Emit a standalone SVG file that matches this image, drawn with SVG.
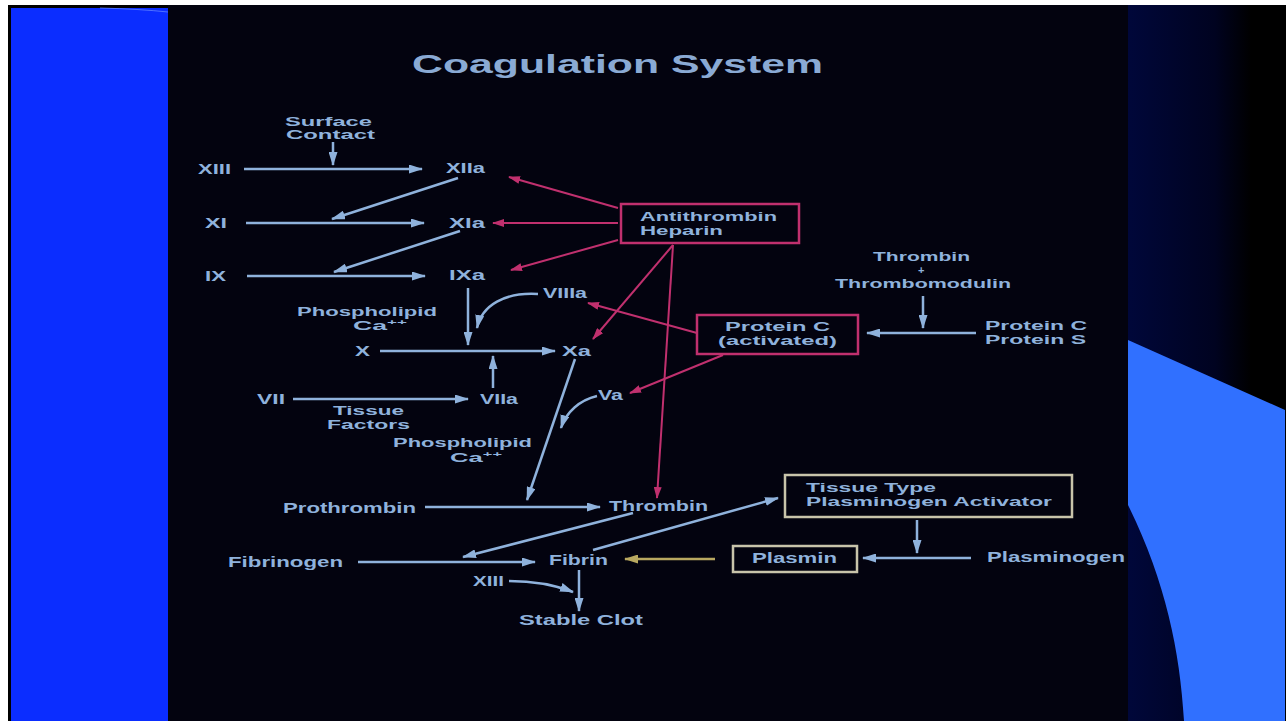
<svg xmlns="http://www.w3.org/2000/svg" width="1286" height="721" viewBox="0 0 1286 721">
<defs>
<style>
.t{font-family:"Liberation Sans",Arial,sans-serif;font-weight:bold;font-size:14px;fill:#8fb2dc;}
.s{font-size:12.5px;}
.ti{font-size:25px;fill:#8aaad4;}
.sup{font-size:8px;}
.b{fill:none;stroke:#8fb2dc;stroke-width:2.5;marker-end:url(#ab);}
.m{fill:none;stroke:#c0306e;stroke-width:2;marker-end:url(#am);}
.y{fill:none;stroke:#b8a860;stroke-width:2.5;marker-end:url(#ay);}
.bm{fill:none;stroke:#c0306e;stroke-width:2.5;}
.bt{fill:none;stroke:#c8c4aa;stroke-width:2.5;}
</style>
<marker id="ab" markerUnits="userSpaceOnUse" markerWidth="14" markerHeight="9" refX="13" refY="4.5" orient="auto"><path d="M0,0 L14,4.5 L0,9 z" fill="#8fb2dc"/></marker>
<marker id="am" markerUnits="userSpaceOnUse" markerWidth="12" markerHeight="8" refX="11" refY="4" orient="auto"><path d="M0,0 L12,4 L0,8 z" fill="#c0306e"/></marker>
<marker id="ay" markerUnits="userSpaceOnUse" markerWidth="14" markerHeight="9" refX="13" refY="4.5" orient="auto"><path d="M0,0 L14,4.5 L0,9 z" fill="#b8a860"/></marker>
<linearGradient id="rg" x1="1128" y1="0" x2="1286" y2="0" gradientUnits="userSpaceOnUse">
<stop offset="0" stop-color="#00073a"/><stop offset="0.55" stop-color="#000320"/><stop offset="0.78" stop-color="#000000"/><stop offset="1" stop-color="#000000"/>
</linearGradient>
</defs>
<rect x="0" y="0" width="1286" height="721" fill="#ffffff"/>
<rect x="8" y="5" width="1278" height="716" fill="#000000"/>
<rect x="11" y="8" width="157" height="713" fill="#0b2dff"/>
<path d="M100,8 Q140,9 168,12" fill="none" stroke="#6a8cff" stroke-width="1" opacity="0.7"/>
<rect x="168" y="5" width="960" height="716" fill="#03030f"/>
<rect x="1128" y="5" width="157" height="716" fill="url(#rg)"/>
<path d="M1128,340 L1285,410 L1285,721 L1184,721 C1180,650 1165,580 1128,505 Z" fill="#3070ff"/>

<g id="title"><text class="t ti" x="412" y="73" textLength="411" lengthAdjust="spacingAndGlyphs">Coagulation System</text></g>

<g id="connectors">
<path class="b" d="M333,142 L333,165"/>
<path class="b" d="M244,169 L422,169"/>
<path class="b" d="M458,178 L332,219"/>
<path class="b" d="M246,223 L424,223"/>
<path class="b" d="M460,231 L334,272"/>
<path class="b" d="M247,276 L425,276"/>
<path class="b" d="M468,288 L468,345"/>
<path class="b" d="M538,294 C505,292 482,305 477,328"/>
<path class="b" d="M380,351 L555,351"/>
<path class="b" d="M493,388 L493,356"/>
<path class="b" d="M293,399 L468,399"/>
<path class="b" d="M597,396 C580,400 566,412 561,428"/>
<path class="b" d="M575,359 L527,500"/>
<path class="b" d="M425,507 L600,507"/>
<path class="b" d="M633,513 L463,557"/>
<path class="b" d="M358,562 L535,562"/>
<path class="b" d="M593,550 L778,498"/>
<path class="b" d="M579,570 L579,611"/>
<path class="b" d="M509,581 C535,581 555,585 573,592"/>
<path class="b" d="M917,520 L917,553"/>
<path class="b" d="M971,558 L863,558"/>
<path class="b" d="M923,296 L923,328"/>
<path class="b" d="M976,333 L867,333"/>
<path class="y" d="M715,559 L625,559"/>
<path class="m" d="M618,208 L509,177"/>
<path class="m" d="M618,223 L493,223"/>
<path class="m" d="M618,240 L511,270"/>
<path class="m" d="M673,245 L593,339"/>
<path class="m" d="M673,245 L657,498"/>
<path class="m" d="M697,333 L588,303"/>
<path class="m" d="M723,355 L630,393"/>
</g>

<g id="surface-contact"><text class="t s" x="285" y="126" textLength="87" lengthAdjust="spacingAndGlyphs">Surface</text><text class="t s" x="286" y="139" textLength="89" lengthAdjust="spacingAndGlyphs">Contact</text></g>
<g id="XIII"><text class="t" x="198" y="174" textLength="33" lengthAdjust="spacingAndGlyphs">XIII</text></g>
<g id="XIIa"><text class="t" x="446" y="173" textLength="39" lengthAdjust="spacingAndGlyphs">XIIa</text></g>
<g id="XI"><text class="t" x="205" y="228" textLength="22" lengthAdjust="spacingAndGlyphs">XI</text></g>
<g id="XIa"><text class="t" x="449" y="228" textLength="36" lengthAdjust="spacingAndGlyphs">XIa</text></g>
<g id="IX"><text class="t" x="205" y="281" textLength="21" lengthAdjust="spacingAndGlyphs">IX</text></g>
<g id="IXa"><text class="t" x="449" y="280" textLength="36" lengthAdjust="spacingAndGlyphs">IXa</text></g>
<g id="VIIIa"><text class="t" x="543" y="298" textLength="44" lengthAdjust="spacingAndGlyphs">VIIIa</text></g>
<g id="phospholipid1"><text class="t s" x="297" y="316" textLength="140" lengthAdjust="spacingAndGlyphs">Phospholipid</text><text class="t s" x="353" y="330" textLength="54" lengthAdjust="spacingAndGlyphs">Ca<tspan class="sup" dy="-5">++</tspan></text></g>
<g id="X"><text class="t" x="355" y="356" textLength="15" lengthAdjust="spacingAndGlyphs">X</text></g>
<g id="Xa"><text class="t" x="562" y="356" textLength="29" lengthAdjust="spacingAndGlyphs">Xa</text></g>
<g id="VII"><text class="t" x="257" y="404" textLength="28" lengthAdjust="spacingAndGlyphs">VII</text></g>
<g id="VIIa"><text class="t" x="480" y="404" textLength="38" lengthAdjust="spacingAndGlyphs">VIIa</text></g>
<g id="tissue-factors"><text class="t s" x="333" y="415" textLength="71" lengthAdjust="spacingAndGlyphs">Tissue</text><text class="t s" x="327" y="429" textLength="83" lengthAdjust="spacingAndGlyphs">Factors</text></g>
<g id="Va"><text class="t" x="598" y="400" textLength="25" lengthAdjust="spacingAndGlyphs">Va</text></g>
<g id="phospholipid2"><text class="t s" x="393" y="447" textLength="139" lengthAdjust="spacingAndGlyphs">Phospholipid</text><text class="t s" x="450" y="462" textLength="52" lengthAdjust="spacingAndGlyphs">Ca<tspan class="sup" dy="-5">++</tspan></text></g>
<g id="prothrombin"><text class="t" x="283" y="513" textLength="133" lengthAdjust="spacingAndGlyphs">Prothrombin</text></g>
<g id="thrombin"><text class="t" x="609" y="511" textLength="99" lengthAdjust="spacingAndGlyphs">Thrombin</text></g>
<g id="fibrinogen"><text class="t" x="228" y="567" textLength="115" lengthAdjust="spacingAndGlyphs">Fibrinogen</text></g>
<g id="fibrin"><text class="t" x="549" y="565" textLength="59" lengthAdjust="spacingAndGlyphs">Fibrin</text></g>
<g id="XIII-2"><text class="t" x="473" y="586" textLength="31" lengthAdjust="spacingAndGlyphs">XIII</text></g>
<g id="stable-clot"><text class="t" x="519" y="625" textLength="124" lengthAdjust="spacingAndGlyphs">Stable Clot</text></g>
<g id="antithrombin-heparin"><rect class="bm" x="621" y="204" width="178" height="39"/><text class="t s" x="640" y="221" textLength="137" lengthAdjust="spacingAndGlyphs">Antithrombin</text><text class="t s" x="640" y="235" textLength="83" lengthAdjust="spacingAndGlyphs">Heparin</text></g>
<g id="protein-c-activated"><rect class="bm" x="697" y="315" width="161" height="39"/><text class="t s" x="725" y="331" textLength="105" lengthAdjust="spacingAndGlyphs">Protein C</text><text class="t s" x="718" y="345" textLength="119" lengthAdjust="spacingAndGlyphs">(activated)</text></g>
<g id="thrombin-thrombomodulin"><text class="t s" x="873" y="261" textLength="97" lengthAdjust="spacingAndGlyphs">Thrombin</text><text class="t" x="918" y="274" style="font-size:11px">+</text><text class="t s" x="835" y="288" textLength="176" lengthAdjust="spacingAndGlyphs">Thrombomodulin</text></g>
<g id="protein-c-s"><text class="t s" x="985" y="330" textLength="102" lengthAdjust="spacingAndGlyphs">Protein C</text><text class="t s" x="985" y="344" textLength="101" lengthAdjust="spacingAndGlyphs">Protein S</text></g>
<g id="tpa"><rect class="bt" x="785" y="475" width="287" height="42"/><text class="t s" x="806" y="492" textLength="130" lengthAdjust="spacingAndGlyphs">Tissue Type</text><text class="t s" x="806" y="506" textLength="246" lengthAdjust="spacingAndGlyphs">Plasminogen Activator</text></g>
<g id="plasmin"><rect class="bt" x="733" y="546" width="124" height="26"/><text class="t" x="752" y="563" textLength="85" lengthAdjust="spacingAndGlyphs">Plasmin</text></g>
<g id="plasminogen"><text class="t" x="987" y="562" textLength="138" lengthAdjust="spacingAndGlyphs">Plasminogen</text></g>
</svg>
